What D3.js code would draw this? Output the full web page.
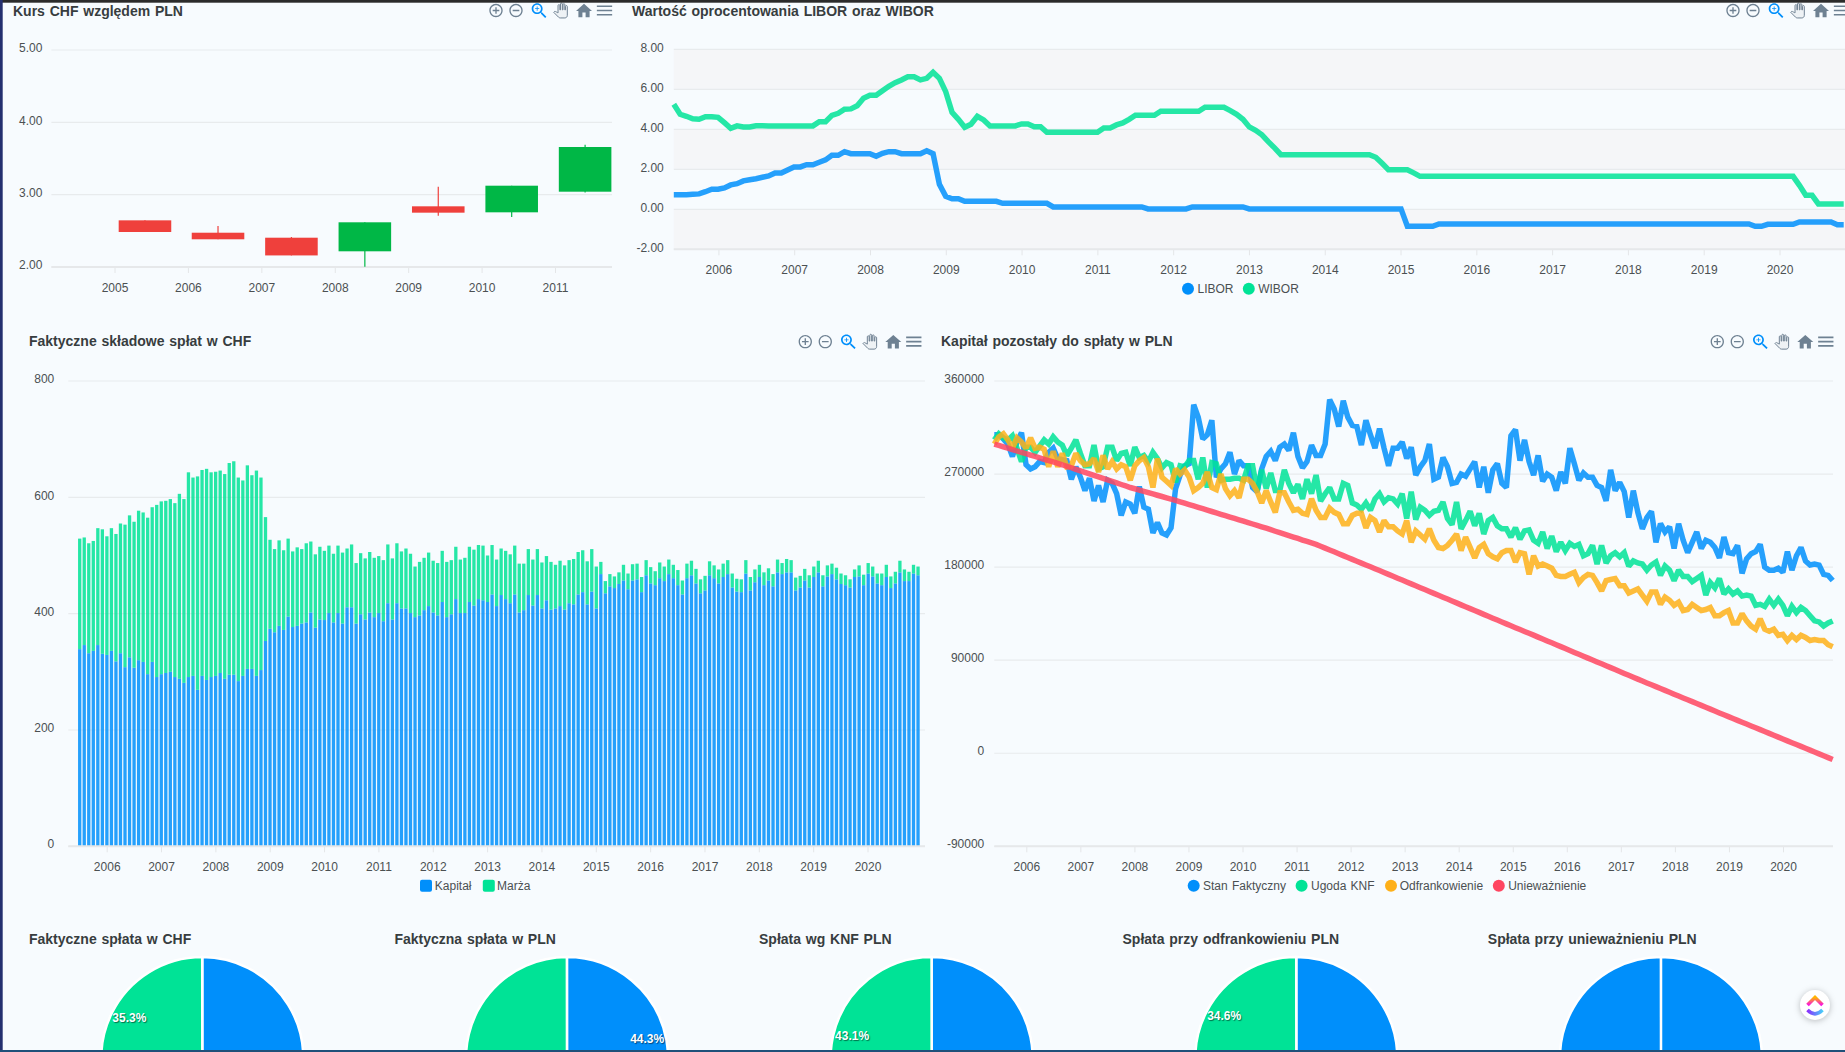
<!doctype html>
<html lang="pl">
  <head>
    <meta charset="utf-8">
    <title>Kredyt CHF</title>
    <script src="https://d3js.org/d3.v7.min.js"></script>
    <style>
      html, body { margin: 0; padding: 0; background: #f7fbfe; overflow: hidden; }
      svg { display: block; font-family: "Liberation Sans", Arial, sans-serif; }
      .title { font-size: 14px; font-weight: bold; fill: #373d3f; word-spacing: .9px; }
      .axis text { font-size: 12px; fill: #4b5052; font-family: "Liberation Sans", Arial, sans-serif; }
      .legend { font-size: 12px; fill: #4b5052; word-spacing: .9px; }
      .pie-label { font-size: 12px; font-weight: bold; fill: #fff; text-anchor: middle; text-shadow: 1px 1px 1px rgba(0,0,0,.5); }
    </style>
  </head>
  <body>
    <div id="dashboard"></div>
    <script>
      // colours
      const BLUE = "#008FFB", GREEN = "#00E396", ORANGE = "#FEB019", RED = "#FF4560";
      const CANDLE_UP = "#00B746", CANDLE_DOWN = "#EF403C";
      const ICON = "#6e8192";

      // Kurs CHF
      const candleYears = [2005, 2006, 2007, 2008, 2009, 2010, 2011];
      const candleDates = [2005.415, 2006.41, 2007.41, 2008.41, 2009.41, 2010.41, 2011.41];
      const candleOpen  = [2.645, 2.474, 2.405, 2.217, 2.839, 2.756, 3.041];
      const candleClose = [2.484, 2.383, 2.16, 2.618, 2.751, 3.124, 3.659];
      const candleHigh  = [2.645, 2.567, 2.415, 2.618, 3.11, 3.124, 3.69];
      const candleLow   = [2.484, 2.383, 2.16, 2.005, 2.71, 2.69, 3.03];
      const candleTicks = [2, 3, 4, 5];

      // lata na osi, miesiace 06.2005 - 11.2020
      const years = [2006, 2007, 2008, 2009, 2010, 2011, 2012, 2013, 2014, 2015, 2016, 2017, 2018, 2019, 2020];
      const months = d3.range(186);

      // LIBOR, WIBOR
      const rateTicks = [-2, 0, 2, 4, 6, 8];
      const libor = [
        .73,.73,.73,.75,.77,.88,1,1,1.07,1.22,
        1.28,1.42,1.48,1.53,1.6,1.67,1.82,1.82,1.97,2.12,
        2.12,2.23,2.23,2.35,2.47,2.7,2.7,2.88,2.78,2.78,
        2.78,2.78,2.65,2.8,2.88,2.88,2.78,2.78,2.78,2.78,
        2.93,2.78,1.25,.65,.53,.53,.4,.4,.4,.4,
        .4,.4,.3,.3,.3,.3,.3,.3,.3,.3,
        .12,.12,.12,.12,.12,.12,.12,.12,.12,.12,
        .12,.12,.12,.12,.12,.02,.02,.02,.02,.02,
        .02,.02,.12,.12,.12,.12,.12,.12,.12,.12,
        .12,.02,.02,.02,.02,.02,.02,.02,.02,.02,
        .02,.02,.02,.02,.02,.02,.02,.02,.02,.02,
        .02,.02,.02,.02,.02,.02,-.85,-.85,-.85,-.85,
        -.85,-.73,-.73,-.73,-.73,-.73,-.73,-.73,-.73,-.73,
        -.73,-.73,-.73,-.73,-.73,-.73,-.73,-.73,-.73,-.73,
        -.73,-.73,-.73,-.73,-.73,-.73,-.73,-.73,-.73,-.73,
        -.73,-.73,-.73,-.73,-.73,-.73,-.73,-.73,-.73,-.73,
        -.73,-.73,-.73,-.73,-.73,-.73,-.73,-.73,-.73,-.73,
        -.73,-.85,-.85,-.75,-.75,-.75,-.75,-.75,-.63,-.63,
        -.63,-.63,-.63,-.63,-.77,-.77
      ];
      const wibor = [
        5.25,4.75,4.65,4.53,4.5,4.63,4.63,4.6,4.33,4.05,
        4.17,4.12,4.12,4.18,4.18,4.17,4.17,4.17,4.17,4.17,
        4.17,4.17,4.17,4.38,4.38,4.7,4.8,5,5.02,5.18,
        5.55,5.7,5.7,5.93,6.15,6.33,6.47,6.63,6.63,6.47,
        6.55,6.85,6.55,5.88,4.85,4.5,4.1,4.25,4.65,4.47,
        4.17,4.17,4.17,4.17,4.17,4.27,4.27,4.13,4.13,3.85,
        3.85,3.85,3.85,3.85,3.85,3.85,3.85,3.85,4.07,4.07,
        4.22,4.32,4.5,4.7,4.7,4.7,4.7,4.9,4.9,4.9,
        4.9,4.9,4.9,4.9,5.1,5.1,5.1,5.1,4.93,4.75,
        4.5,4.12,3.95,3.72,3.38,3.07,2.73,2.73,2.73,2.73,
        2.73,2.73,2.73,2.73,2.73,2.73,2.73,2.73,2.73,2.73,
        2.73,2.6,2.3,1.98,1.98,1.98,1.98,1.82,1.65,1.65,
        1.65,1.65,1.65,1.65,1.65,1.65,1.65,1.65,1.65,1.65,
        1.65,1.65,1.65,1.65,1.65,1.65,1.65,1.65,1.65,1.65,
        1.65,1.65,1.65,1.65,1.65,1.65,1.65,1.65,1.65,1.65,
        1.65,1.65,1.65,1.65,1.65,1.65,1.65,1.65,1.65,1.65,
        1.65,1.65,1.65,1.65,1.65,1.65,1.65,1.65,1.65,1.65,
        1.65,1.65,1.65,1.65,1.65,1.65,1.65,1.65,1.2,.7,
        .7,.27,.27,.27,.27,.27
      ];

      // skladowe splat w CHF
      const partTicks = [0, 200, 400, 600, 800];
      const kapital = [
        339,346,332,336,346,331,329,336,318,332,
        308,325,307,320,317,296,317,291,296,298,
        300,291,288,281,291,293,269,293,286,291,
        293,298,288,295,295,284,293,305,305,293,
        303,353,374,368,379,372,395,377,379,383,
        385,402,376,390,389,401,385,401,383,411,
        411,383,399,390,402,394,401,387,418,390,
        418,409,409,401,394,397,406,413,402,397,
        420,394,399,425,
        401,401,420,414,425,423,420,433,413,432,
        425,418,433,402,406,432,414,432,409,423,
        407,409,413,407,418,416,433,437,416,438,
        409,468,435,447,444,451,457,442,457,459,
        437,466,452,449,461,456,468,461,449,433,
        461,466,452,435,440,466,461,452,463,468,
        445,438,437,469,440,454,463,449,457,447,
        471,468,471,471,440,445,457,445,463,471,
        447,464,468,459,451,449,445,463,464,449,
        469,464,452,449,463,444,452,471,456,456,
        469,466
      ];
      const marza = [
        190,185,189,189,201,214,204,211,219,223,
        245,244,251,257,257,269,266,296,297,296,
        297,299,318,316,352,341,367,354,363,352,
        351,348,352,364,367,350,336,350,333,353,
        331,213,153,143,147,137,134,130,135,128,
        136,122,126,125,119,116,118,116,122,101,
        108,104,105,105,104,102,98,105,101,105,
        103,98,103,102,87,92,90,92,89,90,
        88,95,93,90,
        92,95,95,96,93,94,80,85,80,80,
        83,84,84,84,80,79,79,79,79,76,
        82,75,78,76,74,78,73,72,74,73,
        72,21,21,21,20,20,27,27,28,27,
        26,26,28,24,27,25,25,23,26,24,
        25,25,25,24,25,24,22,24,23,24,
        24,22,22,23,23,22,21,22,21,21,
        22,19,23,21,22,20,20,21,18,20,
        19,19,18,20,18,17,14,13,19,18,
        18,17,17,20,21,20,20,20,20,16,
        15,15
      ];

      // kapital pozostaly, tys. PLN
      const remainTicks = [-90, 0, 90, 180, 270, 360];
      const stanFaktyczny = [
        308,308,304,299,287,301,310,279,275,277,
        282,281,291,295,285,284,283,265,277,267,
        254,266,244,259,243,264,261,251,230,243,
        241,232,258,238,236,213,223,213,211,218,
        256,269,278,280,337,325,304,308,322,267,
        275,280,291,270,283,278,278,257,253,275,
        287,292,283,296,299,293,310,287,276,282,
        298,288,288,299,342,333,316,341,325,317,
        316,298,322,308,295,314,295,278,295,295,
        301,285,296,269,277,283,299,265,267,286,
        277,261,262,270,268,275,282,257,277,252,
        274,280,261,257,307,313,283,303,282,269,
        288,263,270,267,254,272,261,295,280,264,
        271,267,267,259,257,244,274,254,262,253,
        228,254,233,217,228,234,204,222,214,219,
        198,222,206,194,204,214,198,206,204,199,
        189,209,194,193,201,174,188,193,195,202,
        180,177,177,179,175,195,177,191,199,186,
        182,183,182,173,172,167
      ];
      const ugodaKnf = [
        303,309,305,303,307,295,282,296,296,291,
        297,303,299,306,301,298,288,295,303,290,
        278,278,298,275,277,296,296,283,290,291,
        278,296,286,288,282,291,285,276,281,279,
        262,278,277,283,283,265,286,257,281,280,
        264,265,265,266,266,264,278,278,254,274,
        256,271,254,254,274,261,252,260,246,265,
        251,269,244,251,257,246,246,261,259,242,
        240,236,242,235,246,251,243,247,246,241,
        251,227,253,226,238,235,230,234,235,243,
        227,221,243,217,225,234,220,232,212,225,
        228,220,217,217,209,218,207,215,216,206,
        203,214,198,210,195,204,196,203,200,202,
        191,193,201,183,201,184,191,194,190,194,
        181,186,184,183,177,182,185,172,181,177,
        167,177,171,171,166,169,172,153,165,160,
        169,154,159,154,157,152,153,152,143,144,
        142,149,143,149,143,133,142,136,141,138,
        133,128,127,123,126,128
      ];
      const odfrankowienie = [
        299,306,309,303,295,305,301,295,305,295,
        296,294,277,292,277,290,277,278,290,283,
        279,280,285,272,288,275,282,275,279,277,
        264,278,283,286,277,257,285,267,263,259,
        275,270,274,267,254,257,261,272,257,255,
        270,256,249,254,247,265,265,261,253,242,
        254,243,233,252,252,243,235,236,232,231,
        246,235,228,228,237,233,231,222,222,230,
        232,232,218,228,225,214,225,219,219,215,
        212,225,204,215,211,207,217,206,199,198,
        201,206,212,196,209,199,189,199,202,193,
        190,188,194,196,196,185,194,193,173,191,
        181,183,181,179,172,171,171,173,175,165,
        170,173,172,165,157,167,168,169,162,162,
        155,157,159,153,147,156,156,144,151,148,
        143,146,138,139,144,141,138,139,141,133,
        133,136,138,126,126,135,128,123,120,130,
        120,118,120,114,115,109,114,110,114,112,
        109,110,109,109,105,103
      ];
      const uniewaznienie = [
        299,297.7,296.3,295,293.7,292.3,291,289.7,288.3,287,
        285.7,284.3,283,281.7,280.3,279,277.5,276.1,274.6,273.1,
        271.7,270.2,268.7,267.3,265.8,264.3,262.9,261.4,259.9,258.5,
        257,255.8,254.5,253.3,252,250.8,249.5,248.3,247,245.8,
        244.5,243.2,241.8,240.5,239.2,237.8,236.5,235.1,233.8,232.5,
        231.1,229.8,228.4,227.1,225.8,224.4,223.1,221.7,220.4,219,
        217.6,216.2,214.7,213.3,211.9,210.5,209.1,207.7,206.2,204.8,
        203.4,202,200.2,198.4,196.6,194.8,193,191.1,189.3,187.5,
        185.7,183.9,182.1,180.3,178.5,176.7,174.8,173,171.2,169.3,
        167.5,165.6,163.8,162,160.1,158.3,156.4,154.6,152.8,150.9,
        149.1,147.2,145.4,143.5,141.7,139.9,138,136.2,134.3,132.5,
        130.6,128.8,127,125.1,123.3,121.4,119.6,117.8,116,114.2,
        112.3,110.5,108.6,106.8,104.9,103.1,101.2,99.4,97.5,95.7,
        93.8,92,90.2,88.3,86.5,84.6,82.8,80.9,79.1,77.2,
        75.4,73.5,71.7,69.8,68,66.2,64.4,62.6,60.8,59,
        57.1,55.3,53.5,51.7,49.9,48.1,46.3,44.5,42.7,40.9,
        39,37.2,35.4,33.6,31.8,30,28.2,26.4,24.6,22.8,
        21,19.2,17.4,15.6,13.8,12,10.2,8.4,6.6,4.8,
        3,1.2,-.6,-2.4,-4.2,-6
      ];

      // wykresy kolowe
      const pieTitles = ["Faktyczne spłata w CHF", "Faktyczna spłata w PLN", "Spłata wg KNF PLN", "Spłata przy odfrankowieniu PLN", "Spłata przy unieważnieniu PLN"];
      const pieKapital = [64.7, 44.3, 56.9, 65.4, 100];
      const pieMarza   = [35.3, 55.7, 43.1, 34.6, 0];

      const svg = d3.select("#dashboard").append("svg")
        .attr("width", 1845).attr("height", 1052);

      const defs = svg.append("defs");
      const logoTop = defs.append("linearGradient").attr("id", "logoTop").attr("x1", 0).attr("x2", 0).attr("y1", 0).attr("y2", 1);
      logoTop.append("stop").attr("offset", "0%").attr("stop-color", "#ffb400");
      logoTop.append("stop").attr("offset", "100%").attr("stop-color", "#fa12e3");
      const logoBottom = defs.append("linearGradient").attr("id", "logoBottom");
      logoBottom.append("stop").attr("offset", "0%").attr("stop-color", "#8930fd");
      logoBottom.append("stop").attr("offset", "100%").attr("stop-color", "#49ccf9");

      function title(text, x, y) {
        svg.append("text").attr("class", "title").attr("x", x).attr("y", y).text(text);
      }

      // ikonki apexcharts
      const icons = [
        {dx: 0, k: .667, cx: 12, cy: 12, fill: ICON, d: "M13 7h-2v4H7v2h4v4h2v-4h4v-2h-4V7zm-1-5C6.48 2 2 6.48 2 12s4.48 10 10 10 10-4.48 10-10S17.52 2 12 2zm0 18c-4.41 0-8-3.59-8-8s3.59-8 8-8 8 3.59 8 8-3.59 8-8 8z"},
        {dx: 20, k: .667, cx: 12, cy: 12, fill: ICON, d: "M7 11v2h10v-2H7zm5-9C6.48 2 2 6.48 2 12s4.48 10 10 10 10-4.48 10-10S17.52 2 12 2zm0 18c-4.41 0-8-3.59-8-8s3.59-8 8-8 8 3.59 8 8-3.59 8-8 8z"},
        {dx: 43, k: .84, cx: 11.7, cy: 11.7, fill: BLUE, d: "M15.5 14h-.79l-.28-.27C15.41 12.59 16 11.11 16 9.5 16 5.91 13.09 3 9.5 3S3 5.91 3 9.5 5.91 16 9.5 16c1.61 0 3.09-.59 4.23-1.57l.27.28v.79l5 4.99L20.49 19l-4.99-5zm-6 0C7.01 14 5 11.99 5 9.5S7.01 5 9.5 5 14 7.01 14 9.5 11.99 14 9.5 14zM12 10h-2v2H9v-2H7V9h2V7h1v2h2v1z"},
        {dx: 64.5, k: .62, cx: 12, cy: 12, fill: "#eef2f5", stroke: ICON, d: "M23 5.5V20c0 2.2-1.8 4-4 4h-7.3c-1.08 0-2.1-.43-2.85-1.19L1 14.83s1.26-1.23 1.3-1.25c.22-.19.49-.29.79-.29.22 0 .42.06.6.16.04.01 4.31 2.46 4.31 2.46V4c0-.83.67-1.5 1.5-1.5S11 3.17 11 4v7h1V1.5c0-.83.67-1.5 1.5-1.5S15 .67 15 1.5V11h1V2.5c0-.83.67-1.5 1.5-1.5s1.5.67 1.5 1.5V11h1V5.5c0-.83.67-1.5 1.5-1.5s1.5.67 1.5 1.5z"},
        {dx: 88, k: .8, cx: 12, cy: 11.5, fill: ICON, d: "M10 20v-6h4v6h5v-8h3L12 3 2 12h3v8z"},
        {dx: 108.5, k: .85, cx: 12, cy: 12, fill: ICON, d: "M3 18h18v-2H3v2zm0-5h18v-2H3v2zm0-7v2h18V6H3z"}
      ];
      function toolbar(x, y) {
        icons.forEach(function (ic) {
          svg.append("path")
            .attr("d", ic.d)
            .attr("fill", ic.fill)
            .attr("stroke", ic.stroke || "none")
            .attr("stroke-width", ic.stroke ? 1.6 : 0)
            .attr("transform", `translate(${x + ic.dx},${y}) scale(${ic.k}) translate(${-ic.cx},${-ic.cy})`);
        });
      }

      function grid(yScale, ticks, x0, x1) {
        svg.append("g").selectAll("line")
          .data(ticks)
          .join("line")
            .attr("x1", x0).attr("x2", x1)
            .attr("y1", d => yScale(d)).attr("y2", d => yScale(d))
            .attr("stroke", "#e8ebed")
            .attr("stroke-width", 1.2);
      }

      function bottomAxis(xScale, ticks, y, x0, x1) {
        const g = svg.append("g")
          .attr("class", "axis")
          .attr("transform", `translate(0,${y})`)
          .call(d3.axisBottom(xScale).tickValues(ticks).tickFormat(d3.format("d")).tickSize(6).tickPadding(10));
        g.select(".domain").remove();
        g.selectAll("line").attr("stroke", "#e4e6e8");
        g.append("line").attr("x1", x0).attr("x2", x1).attr("stroke", "#e6e8ea").attr("stroke-width", 2);
      }

      function leftAxis(yScale, ticks, x, padding, format, dy) {
        const g = svg.append("g")
          .attr("class", "axis")
          .attr("transform", `translate(${x},0)`)
          .call(d3.axisLeft(yScale).tickValues(ticks).tickFormat(format).tickSize(0).tickPadding(padding));
        g.select(".domain").remove();
        g.selectAll("text").attr("dy", dy);
      }

      function legend(items) {
        items.forEach(function (it) {
          if (it.square) {
            svg.append("rect").attr("x", it.mx - 6).attr("y", it.y - 6).attr("width", 12).attr("height", 12)
              .attr("rx", 2).attr("fill", it.color);
          } else {
            svg.append("circle").attr("cx", it.mx).attr("cy", it.y).attr("r", 6).attr("fill", it.color);
          }
          svg.append("text").attr("class", "legend").attr("x", it.tx).attr("y", it.y + 4).text(it.label);
        });
      }

      function drawLine(values, color, xScale, yScale) {
        svg.append("path")
          .datum(values)
          .attr("fill", "none")
          .attr("stroke", color)
          .attr("stroke-width", 5.5)
          .attr("stroke-opacity", .85)
          .attr("stroke-linejoin", "miter")
          .attr("stroke-miterlimit", 2)
          .attr("d", d3.line().x((d, i) => xScale(i)).y(d => yScale(d)));
      }

      // ---- Kurs CHF wzgledem PLN
      title("Kurs CHF względem PLN", 13, 16);
      toolbar(496, 10.5);
      {
        const x = d3.scaleLinear().domain([2005, 2011]).range([114.5, 555]);
        const y = d3.scaleLinear().domain([2, 5]).range([267, 50]);
        const cw = 0.716;
        grid(y, candleTicks, 51.4, 612);
        bottomAxis(x, candleYears, 267, 51.4, 612);
        leftAxis(y, candleTicks, 51.4, 9, d => d.toFixed(2), ".14em");

        const candles = svg.append("g").selectAll("g")
          .data(candleDates)
          .join("g")
            .attr("fill", (d, i) => candleClose[i] >= candleOpen[i] ? CANDLE_UP : CANDLE_DOWN)
            .attr("stroke", (d, i) => candleClose[i] >= candleOpen[i] ? CANDLE_UP : CANDLE_DOWN);
        candles.append("line")
          .attr("x1", d => x(d)).attr("x2", d => x(d))
          .attr("y1", (d, i) => y(candleHigh[i])).attr("y2", (d, i) => y(candleLow[i]))
          .attr("stroke-width", 1.2);
        candles.append("rect")
          .attr("x", d => x(d - cw / 2))
          .attr("width", d => x(d + cw / 2) - x(d - cw / 2))
          .attr("y", (d, i) => y(Math.max(candleOpen[i], candleClose[i])))
          .attr("height", (d, i) => Math.abs(y(candleOpen[i]) - y(candleClose[i])))
          .attr("stroke-width", 0);
      }

      // ---- Wartosc oprocentowania
      title("Wartość oprocentowania LIBOR oraz WIBOR", 632, 16);
      toolbar(1733, 10.5);
      {
        const xm = d3.scaleLinear().domain([0, 185]).range([673.8, 1843.7]);
        const xy = d3.scaleLinear().domain([2006, 2020]).range([718.4, 1779.5]);
        const y = d3.scaleLinear().domain([-2, 8]).range([249.3, 49.3]);
        svg.append("g").selectAll("rect")
          .data([6, 2, -2])
          .join("rect")
            .attr("x", 673.8).attr("width", 1845 - 673.8)
            .attr("y", d => y(d + 2)).attr("height", d => y(d) - y(d + 2))
            .attr("fill", "#f5f6f8");
        grid(y, rateTicks, 673.8, 1845);
        bottomAxis(xy, years, 249.3, 673.8, 1845);
        leftAxis(y, rateTicks, 673.8, 10, d => d.toFixed(2), ".16em");
        drawLine(libor, BLUE, xm, y);
        drawLine(wibor, GREEN, xm, y);
        legend([
          {label: "LIBOR", color: BLUE, mx: 1188, tx: 1197.5, y: 288.7},
          {label: "WIBOR", color: GREEN, mx: 1248.8, tx: 1258.2, y: 288.7}
        ]);
      }

      // ---- Faktyczne skladowe splat
      title("Faktyczne składowe spłat w CHF", 29, 346);
      toolbar(805.3, 341.7);
      {
        const xm = d3.scaleBand().domain(months).range([77.43, 920.3]).paddingInner(.27).paddingOuter(.135);
        const xy = d3.scaleLinear().domain([2006, 2020]).range([106.7, 867.5]);
        const y = d3.scaleLinear().domain([0, 800]).range([846.3, 381]);
        grid(y, partTicks, 68.3, 925);
        const bars = svg.append("g").selectAll("g")
          .data(months)
          .join("g");
        bars.append("rect")
          .attr("x", d => xm(d)).attr("width", xm.bandwidth())
          .attr("y", (d, i) => y(kapital[i])).attr("height", (d, i) => y(0) - y(kapital[i]))
          .attr("fill", BLUE).attr("fill-opacity", .85);
        bars.append("rect")
          .attr("x", d => xm(d)).attr("width", xm.bandwidth())
          .attr("y", (d, i) => y(kapital[i] + marza[i])).attr("height", (d, i) => y(kapital[i]) - y(kapital[i] + marza[i]))
          .attr("fill", GREEN).attr("fill-opacity", .85);
        bottomAxis(xy, years, 846.3, 68.3, 925);
        leftAxis(y, partTicks, 68.3, 14, d3.format("d"), ".14em");
        legend([
          {label: "Kapitał", color: BLUE, square: true, mx: 426, tx: 434.8, y: 885.7},
          {label: "Marża", color: GREEN, square: true, mx: 488.8, tx: 497, y: 885.7}
        ]);
      }

      // ---- Kapital pozostaly
      title("Kapitał pozostały do spłaty w PLN", 941, 346);
      toolbar(1717.3, 341.7);
      {
        const xm = d3.scaleLinear().domain([0, 185]).range([994.3, 1832.7]);
        const xy = d3.scaleLinear().domain([2006, 2020]).range([1026.3, 1783]);
        const y = d3.scaleLinear().domain([-90, 360]).range([846.3, 381]);
        grid(y, remainTicks, 994.3, 1833);
        bottomAxis(xy, years, 846.3, 994.3, 1833);
        leftAxis(y, remainTicks, 994.3, 10, d => String(d * 1000), ".14em");
        drawLine(stanFaktyczny, BLUE, xm, y);
        drawLine(ugodaKnf, GREEN, xm, y);
        drawLine(odfrankowienie, ORANGE, xm, y);
        drawLine(uniewaznienie, RED, xm, y);
        legend([
          {label: "Stan Faktyczny", color: BLUE, mx: 1193.7, tx: 1203, y: 885.7},
          {label: "Ugoda KNF", color: GREEN, mx: 1301.6, tx: 1311, y: 885.7},
          {label: "Odfrankowienie", color: ORANGE, mx: 1391, tx: 1399.7, y: 885.7},
          {label: "Unieważnienie", color: RED, mx: 1498.8, tx: 1508.2, y: 885.7}
        ]);
      }

      // ---- kolowe, uciete dolna krawedzia ekranu
      const pieCx = d3.scaleLinear().domain([0, 4]).range([202.3, 1661]);
      const pieTitleX = [29, 394.4, 759, 1122.5, 1487.8];
      const pieCy = 1058, pieR = 101;
      const arc = d3.arc().innerRadius(0).outerRadius(pieR);
      const labelArc = d3.arc().innerRadius(81.5).outerRadius(81.5);
      pieTitles.forEach(function (t, p) {
        title(t, pieTitleX[p], 944);
        const g = svg.append("g").attr("transform", `translate(${pieCx(p)},${pieCy})`);
        const slices = d3.pie().sort(null)([pieKapital[p], pieMarza[p]]);
        g.selectAll("path")
          .data(slices.filter(s => s.value > 0))
          .join("path")
            .attr("d", d => arc({startAngle: d.startAngle, endAngle: Math.min(d.endAngle, 2 * Math.PI - .001)}))
            .attr("fill", d => d.index === 0 ? BLUE : GREEN)
            .attr("stroke", "#fff")
            .attr("stroke-width", 2.5);
        // widoczne tylko etykiety nad krawedzia ekranu
        g.selectAll("text")
          .data(slices.filter(s => s.value > 0 && pieCy + labelArc.centroid(s)[1] < 1050))
          .join("text")
            .attr("class", "pie-label")
            .attr("x", d => labelArc.centroid(d)[0])
            .attr("y", d => labelArc.centroid(d)[1])
            .text(d => d.value.toFixed(1) + "%");
      });

      // ramka zrzutu ekranu
      svg.append("rect").attr("x", 0).attr("y", 0).attr("width", 1845).attr("height", 2.7).attr("fill", "#2b2b2b");
      svg.append("rect").attr("x", 0).attr("y", 0).attr("width", 2.7).attr("height", 1052).attr("fill", "#24306f");
      svg.append("rect").attr("x", 0).attr("y", 1050).attr("width", 1845).attr("height", 2).attr("fill", "#1f5079");

      // widget clickup
      const logo = svg.append("g").attr("transform", "translate(1815,1005)");
      logo.append("circle").attr("r", 15).attr("fill", "#fff")
        .style("filter", "drop-shadow(0 1px 3px rgba(0,0,0,.25))");
      logo.append("path").attr("d", "M-7.5,0 L0,-7.5 L7.5,0").attr("fill", "none")
        .attr("stroke", "url(#logoTop)").attr("stroke-width", 3.6);
      logo.append("path").attr("d", "M-7.5,5 Q0,12.5 7.5,5").attr("fill", "none")
        .attr("stroke", "url(#logoBottom)").attr("stroke-width", 3.6);
    </script>
  </body>
</html>
